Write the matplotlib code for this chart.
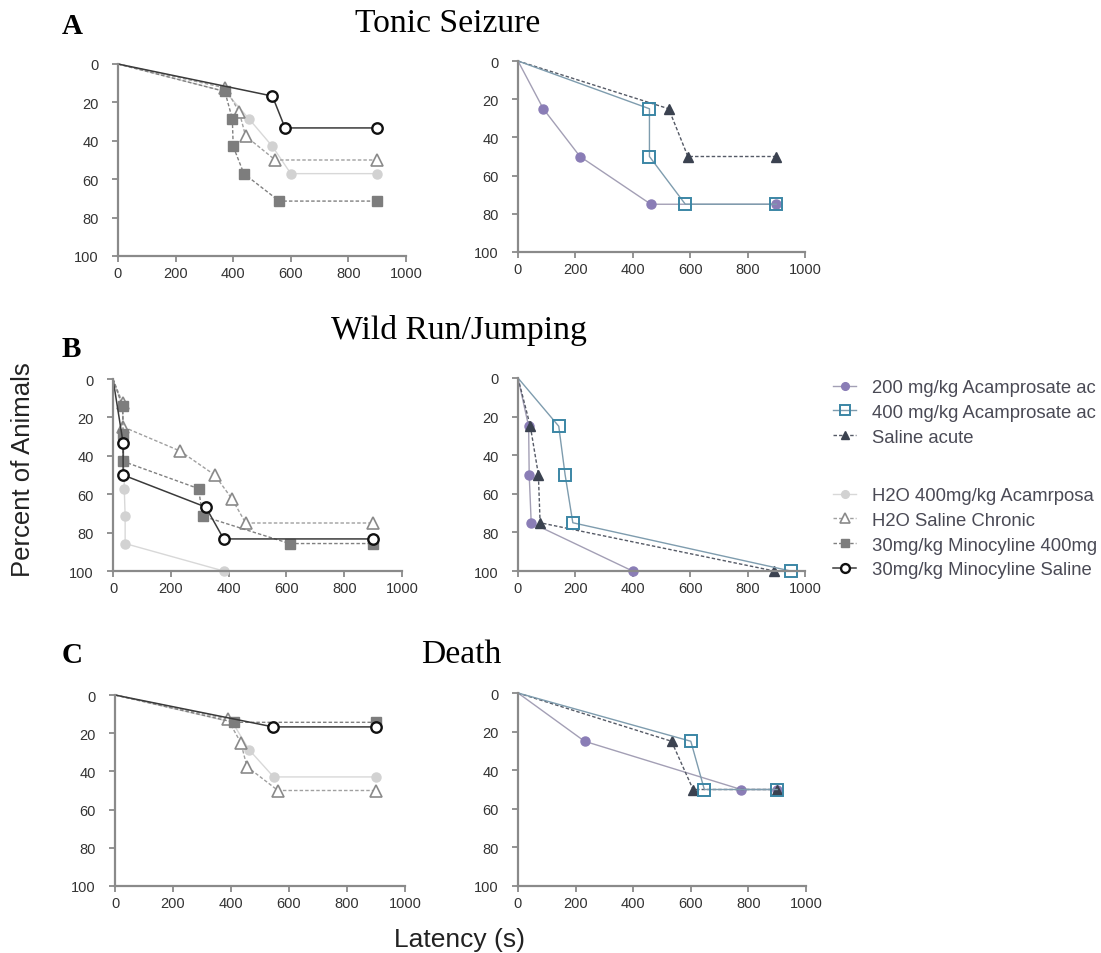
import matplotlib.pyplot as plt

plt.rcParams['font.family'] = ['Liberation Sans', 'DejaVu Sans']

# ---------------- data (latency s, percent of animals) ----------------
# A - Tonic seizure, chronic groups
a_h2o_acam_x = [0, 372, 455, 536, 600, 900]
a_h2o_acam_y = [0, 14.3, 28.6, 42.9, 57.1, 57.1]
a_h2o_sal_x = [0, 373, 421, 443, 546, 900]
a_h2o_sal_y = [0, 12.5, 25, 37.5, 50, 50]
a_mino_acam_x = [0, 371, 397, 400, 437, 560, 900]
a_mino_acam_y = [0, 14.3, 28.6, 42.9, 57.1, 71.4, 71.4]
a_mino_sal_x = [0, 536, 580, 900]
a_mino_sal_y = [0, 16.7, 33.3, 33.3]
# A - acute groups
a_acam200_x = [0, 88, 216, 463, 900]
a_acam200_y = [0, 25, 50, 75, 75]
a_acam400_x = [0, 458, 458, 583, 900]
a_acam400_y = [0, 25, 50, 75, 75]
a_saline_x = [0, 525, 592, 900]
a_saline_y = [0, 25, 50, 50]

# B - Wild run / jumping, chronic groups
b_h2o_acam_x = [0, 33, 36, 38, 39, 42, 42, 383]
b_h2o_acam_y = [0, 14.3, 28.6, 42.9, 57.1, 71.4, 85.7, 100]
b_h2o_sal_x = [0, 33, 36, 232, 352, 412, 459, 900]
b_h2o_sal_y = [0, 12.5, 25, 37.5, 50, 62.5, 75, 75]
b_mino_acam_x = [0, 33, 35, 35, 296, 310, 611, 900]
b_mino_acam_y = [0, 14.3, 28.6, 42.9, 57.1, 71.4, 85.7, 85.7]
b_mino_sal_x = [0, 35, 35, 321, 383, 900]
b_mino_sal_y = [0, 33.3, 50, 66.7, 83.3, 83.3]
# B - acute groups
b_acam200_x = [0, 37, 39, 46, 399]
b_acam200_y = [0, 25, 50, 75, 100]
b_acam400_x = [0, 142, 164, 191, 950]
b_acam400_y = [0, 25, 50, 75, 100]
b_saline_x = [0, 43, 71, 77, 893]
b_saline_y = [0, 25, 50, 75, 100]

# C - Death, chronic groups
c_h2o_acam_x = [0, 405, 462, 547, 900]
c_h2o_acam_y = [0, 14.3, 28.6, 42.9, 42.9]
c_h2o_sal_x = [0, 388, 434, 455, 562, 900]
c_h2o_sal_y = [0, 12.5, 25, 37.5, 50, 50]
c_mino_acam_x = [0, 411, 900]
c_mino_acam_y = [0, 14.3, 14.3]
c_mino_sal_x = [0, 545, 900]
c_mino_sal_y = [0, 16.7, 16.7]
# C - acute groups
c_acam200_x = [0, 231, 775, 900]
c_acam200_y = [0, 25, 50, 50]
c_acam400_x = [0, 600, 647, 900]
c_acam400_y = [0, 25, 50, 50]
c_saline_x = [0, 533, 608, 900]
c_saline_y = [0, 25, 50, 50]

# legend labels as far as they show before the right edge of the figure
labels_acute = ["200 mg/kg Acamprosate ac", "400 mg/kg Acamprosate ac", "Saline acute"]
labels_chronic = ["H2O 400mg/kg Acamrposa", "H2O Saline Chronic",
                  "30mg/kg Minocyline 400mg", "30mg/kg Minocyline Saline"]

# ---------------- styles ----------------
dash = (0, (2.5, 1.5))
sty_h2o_acam = dict(color='#d8d8d8', ls='-', lw=1.0, marker='o', mfc='#d2d2d2', mec='#d2d2d2', ms=6.5)
sty_h2o_sal = dict(color='#a0a0a0', ls=dash, lw=1.0, marker='^', mfc='white', mec='#8a8a8a', ms=8, mew=1.2)
sty_mino_acam = dict(color='#808080', ls=dash, lw=1.0, marker='s', mfc='#7d7d7d', mec='#7d7d7d', ms=6.5)
sty_mino_sal = dict(color='#3a3a3a', ls='-', lw=1.1, marker='o', mfc='white', mec='#111111', ms=7.5, mew=1.7)
sty_acam200 = dict(color='#a39fb5', ls='-', lw=1.0, marker='o', mfc='#8a7db6', mec='#8a7db6', ms=6.5)
sty_acam400 = dict(color='#7e9cae', ls='-', lw=1.0, marker='s', mfc='none', mec='#3b86a5', ms=8, mew=1.4)
sty_saline = dict(color='#555a66', ls=dash, lw=1.0, marker='^', mfc='#3b4250', mec='#3b4250', ms=6.5)

W, H = 1101, 954
fig = plt.figure(figsize=(W / 100, H / 100), dpi=100)
fig.patch.set_facecolor('white')


def px_axes(x0, x1, y0, y1):
    return fig.add_axes([x0 / W, 1 - y1 / H, (x1 - x0) / W, (y1 - y0) / H])


def style_ax(ax):
    ax.set_xlim(0, 1000)
    ax.set_ylim(100, 0)
    ax.set_xticks(range(0, 1001, 200))
    ax.set_yticks(range(0, 101, 20))
    for s in ['top', 'right']:
        ax.spines[s].set_visible(False)
    for s in ['left', 'bottom']:
        ax.spines[s].set_color('#8a8a8a')
        ax.spines[s].set_linewidth(1.6)
    ax.tick_params(axis='both', color='#8a8a8a', length=4, width=1.3,
                   labelsize=10.5, labelcolor='#333333')
    ax.tick_params(axis='y', pad=10)
    ax.tick_params(axis='x', pad=3)


def curve(ax, x, y, sty):
    # no marker on the starting point (0, 0)
    line, = ax.plot(x, y, clip_on=False, markevery=list(range(1, len(x))), **sty)
    return line


def chronic(ax, d):
    curve(ax, d[0], d[1], sty_h2o_acam)
    curve(ax, d[2], d[3], sty_h2o_sal)
    curve(ax, d[4], d[5], sty_mino_acam)
    curve(ax, d[6], d[7], sty_mino_sal)
    style_ax(ax)


def acute(ax, d):
    curve(ax, d[0], d[1], sty_acam200)
    curve(ax, d[4], d[5], sty_saline)
    curve(ax, d[2], d[3], sty_acam400)
    style_ax(ax)


# ---------------- panels ----------------
chronic(px_axes(118, 406, 65, 257),
        [a_h2o_acam_x, a_h2o_acam_y, a_h2o_sal_x, a_h2o_sal_y,
         a_mino_acam_x, a_mino_acam_y, a_mino_sal_x, a_mino_sal_y])
acute(px_axes(518, 805, 62, 253),
      [a_acam200_x, a_acam200_y, a_acam400_x, a_acam400_y, a_saline_x, a_saline_y])

chronic(px_axes(113, 402, 380, 572),
        [b_h2o_acam_x, b_h2o_acam_y, b_h2o_sal_x, b_h2o_sal_y,
         b_mino_acam_x, b_mino_acam_y, b_mino_sal_x, b_mino_sal_y])
acute(px_axes(518, 805, 379, 572),
      [b_acam200_x, b_acam200_y, b_acam400_x, b_acam400_y, b_saline_x, b_saline_y])

chronic(px_axes(115, 405, 696, 887),
        [c_h2o_acam_x, c_h2o_acam_y, c_h2o_sal_x, c_h2o_sal_y,
         c_mino_acam_x, c_mino_acam_y, c_mino_sal_x, c_mino_sal_y])
acute(px_axes(518, 806, 694, 887),
      [c_acam200_x, c_acam200_y, c_acam400_x, c_acam400_y, c_saline_x, c_saline_y])

# ---------------- legends ----------------
leg_sty = lambda s: dict(s, ms=s['ms'] * 0.85)
acute_handles = [plt.Line2D([], [], **leg_sty(s)) for s in (sty_acam200, sty_acam400, sty_saline)]
chronic_handles = [plt.Line2D([], [], **leg_sty(s))
                   for s in (sty_h2o_acam, sty_h2o_sal, sty_mino_acam, sty_mino_sal)]
leg_kw = dict(loc='upper left', frameon=False, fontsize=13.3, handlelength=1.25,
              handletextpad=0.85, labelspacing=0.42, borderpad=0, borderaxespad=0,
              labelcolor='#4a4a55')
fig.legend(acute_handles, labels_acute, bbox_to_anchor=(833 / W, 1 - 380 / H), **leg_kw)
fig.legend(chronic_handles, labels_chronic, bbox_to_anchor=(833 / W, 1 - 488 / H), **leg_kw)

# ---------------- text ----------------
serif = ['Liberation Serif', 'DejaVu Serif']
for letter, yb in [('A', 34), ('B', 357), ('C', 663)]:
    fig.text(62 / W, 1 - yb / H, letter, family=serif, fontweight='bold', fontsize=21, va='baseline')
for title, xc, yb in [('Tonic Seizure', 448, 32), ('Wild Run/Jumping', 459, 339), ('Death', 461, 663)]:
    fig.text(xc / W, 1 - yb / H, title, family=serif, fontsize=24.2, ha='center', va='baseline')

fig.text(23 / W, 1 - 470 / H, 'Percent of Animals', rotation=90, fontsize=18.5,
         ha='center', va='center', color='#222222')
fig.text(460 / W, 1 - 947 / H, 'Latency (s)', fontsize=19, ha='center', va='baseline', color='#222222')

fig.savefig('out.png', dpi=100, facecolor='white')
